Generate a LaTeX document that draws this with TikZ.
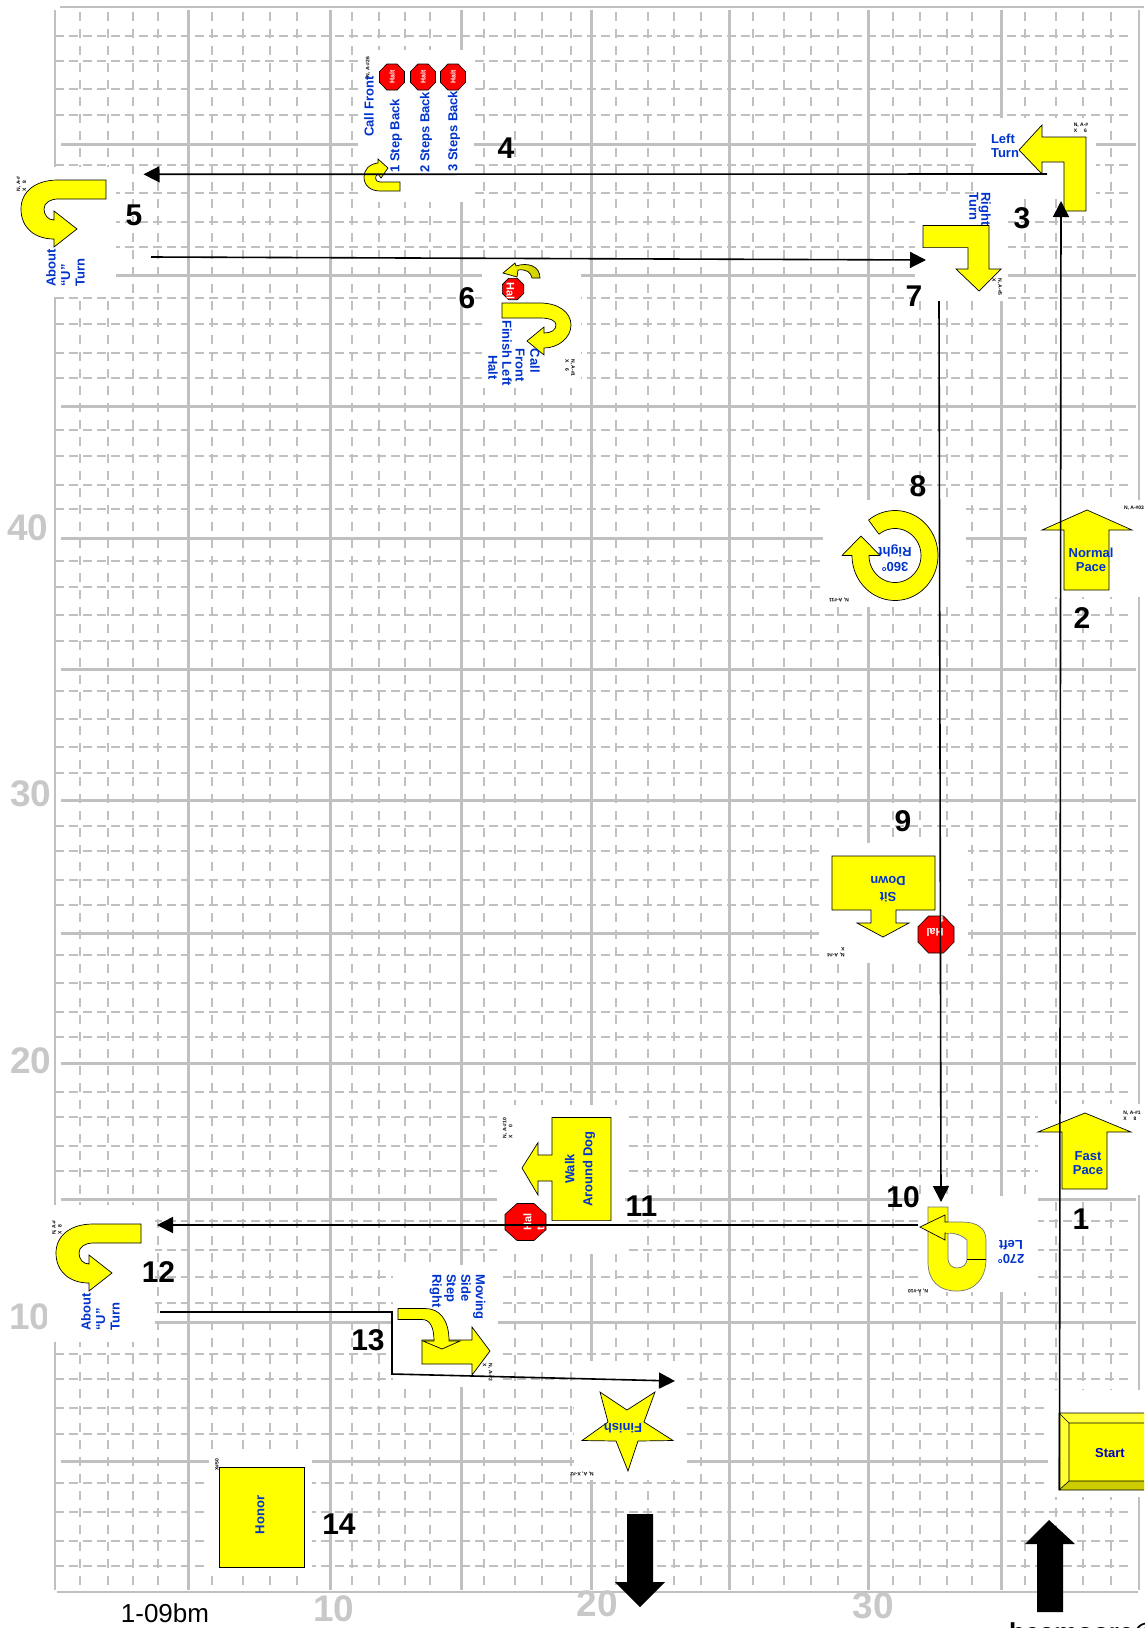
\documentclass[tikz,border=0pt]{standalone}
\usepackage{fontspec}
\setmainfont{Liberation Sans}
\usetikzlibrary{arrows.meta}
\definecolor{gridgray}{RGB}{192,192,192}
\definecolor{numgray}{RGB}{200,200,200}
\definecolor{lblblue}{RGB}{0,51,204}
\definecolor{sign}{RGB}{255,255,0}
\definecolor{signdark}{RGB}{204,204,0}
\definecolor{signlight}{RGB}{255,255,51}
\definecolor{haltred}{RGB}{255,0,0}
\tikzset{
  x=1pt,y=-1pt,
  major/.style={draw=gridgray,line width=3pt},
  minor/.style={draw=gridgray,line width=1.4pt,dash pattern=on 8.5pt off 5.5pt},
  minorv/.style={draw=gridgray,line width=1.4pt,dash pattern=on 9pt off 8pt},
  blank/.style={fill=white,draw=none},
  shapey/.style={fill=sign,draw=black,line width=0.7pt,line join=miter},
  blackshape/.style={fill=black,draw=none},
  stopsign/.style={fill=haltred,draw=black,line width=0.6pt},
  lbl/.style={font=\bfseries\fontsize{13}{14.5}\selectfont,text=lblblue,inner sep=0pt,align=center},
  lblleft/.style={lbl,align=left},
  halttext/.style={font=\bfseries\fontsize{7}{8}\selectfont,text=white,inner sep=0pt,align=left},
  halttextbig/.style={font=\bfseries\fontsize{11}{13}\selectfont,text=white,inner sep=0pt,align=left},
  stepnum/.style={font=\bfseries\fontsize{30}{30}\selectfont,text=black,inner sep=0pt},
  gridnum/.style={font=\bfseries\fontsize{37}{37}\selectfont,text=numgray,inner sep=0pt},
  tiny/.style={font=\bfseries\fontsize{5}{6}\selectfont,text=black,inner sep=0pt,align=left},
  conn/.style={draw=black,line width=1.6pt,line join=miter},
  tipL/.style={-{Triangle[length=16pt,width=16pt]}},
}
\newcommand{\octagon}[4]{\draw[stopsign] (#1-#3,#2-0.414*#4) -- (#1-0.414*#3,#2-#4) -- (#1+0.414*#3,#2-#4) -- (#1+#3,#2-0.414*#4) -- (#1+#3,#2+0.414*#4) -- (#1+0.414*#3,#2+#4) -- (#1-0.414*#3,#2+#4) -- (#1-#3,#2+0.414*#4) -- cycle;}
\newcommand{\aboutturn}[2]{\draw[shapey,shift={(#1,#2)}] (106,180) -- (58,180) .. controls (35,180) and (21,192) .. (21,209) .. controls (21,228) and (35,239) .. (54,239) -- (54,247) -- (77,229) -- (54,211) -- (54,220) .. controls (48,220) and (44,215) .. (44,209) .. controls (44,203) and (50,199) .. (58,199) -- (106,199) -- cycle;}
\begin{document}
\begin{tikzpicture}
\useasboundingbox (0,0) rectangle (1144,1628);
\clip (0,0) rectangle (1144,1628);
% --- grid
\foreach \yy in {36,61,89,115,165,193,222,247,298,324,353,378,430,456,485,509,561,587,615,641,691,719,747,773,826,851,880,905,955,983,1012,1037,1092,1117,1146,1171,1221,1250,1277,1303,1354,1379,1408,1434,1483,1512,1541,1566}
  \draw[minor] (55,\yy) -- (1132,\yy);
\foreach \xx in {80,108,133,158,212,243,270,297,352,379,405,430,484,515,542,571,616,648,674,701,753,784,811,838,893,920,947,972,1025,1056,1083,1111}
  \draw[minorv] (\xx,12) -- (\xx,1590);
\foreach \yy in {144,275,406,538,669,800,933,1063,1199,1322,1461}
  \draw[major] (61,\yy) -- (1136,\yy);
\foreach \xx in {188,330,461,591,729,868,1001}
  \draw[major] (\xx,10) -- (\xx,1590);
\draw[major,line width=2.5pt] (55,10) -- (55,1590);
\draw[major,line width=2.5pt] (1139,10) -- (1139,1590);
\draw[major,line width=2pt] (60,7) -- (1144,7);
\draw[major,line width=2pt] (57,1592) -- (1138,1592);
% --- grid numbers
\node[gridnum] (g40) at (28,528) {40};
\node[gridnum] (g30) at (31,794) {30};
\node[gridnum] (g20) at (31,1061) {20};
\node[gridnum] (g10) at (30,1317) {10};
\node[gridnum] (b10) at (334,1609) {10};
\node[gridnum] (b20) at (597,1604) {20};
\node[gridnum] (b30) at (873,1606) {30};
% --- white patches behind the signs
\fill[blank] (0,167) rectangle (116,297);
\fill[blank] (358,50) rectangle (474,202);
\fill[blank] (482,262) rectangle (581,388);
\fill[blank] (976,118) rectangle (1096,195);
\fill[blank] (915,195) rectangle (1008,301);
\fill[blank] (1027,500) rectangle (1144,597);
\fill[blank] (823,500) rectangle (966,607);
\fill[blank] (819,843) rectangle (968,963);
\fill[blank] (1038,1104) rectangle (1144,1195);
\fill[blank] (919,1196) rectangle (1038,1292);
\fill[blank] (497,1105) rectangle (625,1254);
\fill[blank] (47,1205) rectangle (155,1342);
\fill[blank] (393,1265) rectangle (498,1387);
\fill[blank] (574,1361) rectangle (687,1480);
\fill[blank] (209,1456) rectangle (312,1573);
\fill[blank] (1048,1390) rectangle (1144,1497);
% --- Start
\fill[fill=sign] (1059,1413) rectangle (1150,1490);
\fill[fill=signlight] (1059,1413) -- (1150,1413) -- (1150,1423) -- (1069,1423) -- (1069,1481) -- (1059,1490) -- cycle;
\fill[fill=signdark] (1059,1490) -- (1069,1481) -- (1150,1481) -- (1150,1490) -- cycle;
\draw[black,line width=0.6pt] (1150,1413) -- (1059,1413) -- (1059,1490) -- (1150,1490) (1059,1413) -- (1069,1423) -- (1150,1423) (1069,1423) -- (1069,1481) -- (1150,1481) (1069,1481) -- (1059,1490);
\node[lbl,text=blue!80!black] (start) at (1110,1453) {Start};
% --- Fast Pace
\draw[shapey] (1085,1113) -- (1131,1132) -- (1107,1132) -- (1107,1189) -- (1062,1189) -- (1062,1132) -- (1038,1132) -- cycle;
\node[lbl] (fast) at (1088,1163) {Fast\\Pace};
\node[tiny] (n1) at (1132,1116) {N, A-\#1\\X\ \ \ \ \ 8};
% --- Normal Pace
\draw[shapey] (1087,510) -- (1132,530) -- (1109,530) -- (1109,590) -- (1064,590) -- (1064,530) -- (1042,530) -- cycle;
\node[lbl] (normal) at (1091,560) {Normal\\Pace};
\node[tiny] (n2) at (1134,508) {N, A-\#03};
% --- Left Turn
\draw[shapey] (1019,150) -- (1042,125) -- (1042,137) -- (1086,137) -- (1086,211) -- (1064,211) -- (1064,162) -- (1042,162) -- (1042,174) -- cycle;
\node[lbl,align=left] (leftturn) at (1005,146) {Left\\Turn};
\node[tiny] (n3) at (1081,128) {N, A-\#\\X\ \ \ \ \ 6};
% --- Call Front, steps
\node[lblleft,rotate=90,anchor=west] (callfront) at (369,137) {Call Front};
\node[lblleft,rotate=90,anchor=west] (step1) at (396,173) {1 Step Back};
\node[lblleft,rotate=90,anchor=west] (step2) at (426,173) {2 Steps Back};
\node[lblleft,rotate=90,anchor=west] (step3) at (454,172) {3 Steps Back};
\node[tiny,rotate=90] (n4) at (368,67) {N, A-\#26};
\octagon{392}{77}{12.5}{13}
\octagon{423}{77}{12.5}{13}
\octagon{453}{77}{12.5}{13}
\node[halttext,rotate=90] (h1) at (392,77) {Halt};
\node[halttext,rotate=90] (h2) at (423,77) {Halt};
\node[halttext,rotate=90] (h3) at (453,77) {Halt};
\draw[shapey] (400,182) -- (380,182) .. controls (375,182) and (374,176) .. (378,174) -- (381,178) -- (388,168) -- (378,159) -- (378,163) .. controls (369,164) and (364,170) .. (364,177) .. controls (364,186) and (371,191) .. (380,191) -- (400,191) -- cycle;
% --- About U turn (5)
\aboutturn{0}{0}
\node[lblleft,rotate=90,anchor=west] (about5) at (65.5,287) {About\\``U''\\Turn};
\node[tiny,rotate=90] (n5) at (21.5,184) {N, A-\#\\X\ \ \ 8};
% --- Call Front Finish Left Halt (6)
\draw[shapey,left color=sign,right color=signdark,draw=black] (540,278) -- (532,278) .. controls (531,272) and (526,269) .. (518,270) -- (517,277) -- (503,273) -- (515,263) -- (516,266) .. controls (528,262) and (540,266) .. (540,278) -- cycle;
\octagon{513}{289}{10.7}{10.7}
\node[font=\bfseries\fontsize{11}{12}\selectfont,text=white,inner sep=0pt,rotate=-90] (h6) at (510.5,291) {Hal};
\draw[shapey] (502,303) -- (540,303) .. controls (558,303) and (571,312) .. (571,325) .. controls (571,338) and (558,348) .. (544,348) -- (544,355) -- (527,341) -- (544,327) -- (544,333) .. controls (551,333) and (556,330) .. (556,325) .. controls (556,321) and (551,318) .. (540,318) -- (502,318) -- cycle;
\node[lblleft,rotate=-90,anchor=east] (s6a) at (535,373) {Call};
\node[lblleft,rotate=-90,anchor=east] (s6b) at (520,382) {Front};
\node[lblleft,rotate=-90,anchor=east] (s6c) at (507,386) {Finish Left};
\node[lblleft,rotate=-90,anchor=east] (s6d) at (493,380) {Halt};
\node[tiny,rotate=-90] (n6) at (570,368) {N, A-\#1\\X\ \ \ \ 6};
% --- Right Turn (7)
\node[lblleft,rotate=-90,anchor=west,font=\bfseries\fontsize{13}{12}\selectfont] (rightturn) at (980,192) {Right\\Turn};
\draw[shapey] (923,225.5) -- (989,225.5) -- (989,269) -- (1001,269) -- (979,291) -- (956,269) -- (968,269) -- (968,247.6) -- (923,247.6) -- cycle;
\node[tiny,rotate=-90] (n7) at (997,287) {N, A-\#5\\X};
% --- 360 Right (8)
\draw[shapey,line join=round] plot[domain=128:-180,samples=70] ({895+43*cos(\x)},{555.5-45*sin(\x)}) -- (842,555.5) -- (861,536) -- (880,555.5) -- (869,555.5) -- plot[domain=-180:128,samples=60] ({895+26*cos(\x)},{555.5-27*sin(\x)}) -- cycle;
\node[lbl,rotate=180] (r360) at (895,558) {360°\\Right};
\node[tiny,rotate=180] (n8) at (839,600) {N, A-\#11};
% --- Sit Down (9)
\draw[shapey] (832,856) -- (935,856) -- (935,910) -- (896,910) -- (896,923) -- (909,923) -- (883,937) -- (857,923) -- (871,923) -- (871,910) -- (832,910) -- cycle;
\node[lbl,rotate=180,font=\bfseries\fontsize{13}{16}\selectfont] (sit) at (888,889) {Sit\\Down};
\octagon{936}{934.5}{18}{18.5}
\begin{scope}
\clip (918,916) rectangle (954,953);
\node[halttextbig,rotate=180] (h9) at (935,926) {Hal\\t};
\end{scope}
\node[tiny,rotate=180] (n9) at (836,952) {N, A-\#4\\X};
% --- 270 Left (10)
\draw[shapey,draw=black!55,even odd rule] (928,1207) -- (948,1207) -- (948,1222) -- (962,1222) .. controls (977,1222) and (986,1228) .. (986,1240) -- (986,1259) .. controls (986,1278) and (975,1291) .. (957,1291) .. controls (938,1291) and (928,1280) .. (928,1262) -- cycle
 (948,1233) -- (948,1259) .. controls (948,1264) and (952,1268) .. (957,1268) .. controls (963,1268) and (967,1264) .. (967,1259) -- (967,1240) .. controls (962,1235) and (955,1233) .. (948,1233) -- cycle;
\draw[black,line width=0.7pt] (967,1259) -- (986,1259);
\draw[shapey] (948,1222) -- (945,1222) -- (945,1215) -- (920,1227) -- (945,1240) -- (945,1233) -- (948,1233);
\fill[sign] (945.5,1222.5) rectangle (950,1232.5);
\node[lbl,rotate=180] (l270) at (1011,1252) {270°\\Left};
\node[tiny,rotate=180] (n10) at (918,1291) {N, A-\#10};
% --- Walk Around Dog (11)
\draw[shapey] (552,1117.5) -- (611,1117.5) -- (611,1220.6) -- (552,1220.6) -- (552,1181) -- (538,1181) -- (538,1195) -- (522,1168) -- (538,1142.6) -- (538,1155) -- (552,1155) -- cycle;
\node[lbl,rotate=90,font=\bfseries\fontsize{13}{18}\selectfont] (walk) at (580,1169) {Walk\\Around Dog};
\octagon{525.5}{1222}{20.5}{18.5}
\node[halttextbig,rotate=90] (h11) at (534,1222) {Hal\\t};
\node[tiny,rotate=90] (n11) at (507.6,1128) {N, A-\#10\\X\ \ \ \ \ 0};
% --- About U turn (12)
\aboutturn{35}{1044}
\node[lblleft,rotate=90,anchor=west] (about12) at (100.5,1331) {About\\``U''\\Turn};
\node[tiny,rotate=90] (n12) at (57,1227.5) {N, A-\#\\X\ \ \ 8};
% --- Moving Side Step Right (13)
\draw[shapey] (422,1340) -- (472,1340) -- (472,1327) -- (490,1351) -- (472,1375) -- (472,1364) -- (422,1364) -- cycle;
\draw[shapey] (398,1308.5) -- (425,1308.5) .. controls (440,1308.5) and (449,1320) .. (449,1341) -- (460,1341) -- (442,1349) -- (423,1341) -- (434,1341) .. controls (434,1327) and (430,1319.5) .. (422,1319.5) -- (398,1319.5) -- cycle;
\node[lblleft,rotate=-90,anchor=west] (moving) at (457.5,1274) {Moving\\Side\\Step\\Right};
\node[tiny,rotate=-90] (n13) at (487.5,1372.5) {N, A-\#2\\X};
% --- Finish
\draw[shapey] (628,1471) -- (616,1441) -- (582,1440.5) -- (608,1422) -- (600,1392) -- (627,1410) -- (655,1392) -- (644,1422) -- (673,1440.5) -- (638,1441) -- cycle;
\node[lbl,rotate=180] (finish) at (623,1428.5) {Finish};
\node[tiny,rotate=180] (n14) at (582,1474) {N, A, X-\#2};
% --- Honor
\draw[shapey] (219,1467) rectangle (304,1567);
\node[lbl,rotate=90] (honor) at (260,1515) {Honor};
\node[tiny,rotate=90] (n15) at (217,1464.5) {X\#50};
% --- big arrows
\fill[blackshape] (627,1514) -- (653,1514) -- (653,1582) -- (665,1582) -- (640,1607) -- (615,1582) -- (627,1582) -- cycle;
\fill[blackshape] (1049,1520) -- (1075,1544) -- (1063,1544) -- (1063,1612) -- (1037,1612) -- (1037,1544) -- (1025,1544) -- cycle;
% --- connectors
\coordinate (p1) at (1059.5,1490);
\coordinate (p3) at (1061,201);
\coordinate (p3b) at (1047,174);
\coordinate (p5) at (143.5,174.3);
\coordinate (p5b) at (151,257);
\coordinate (p7) at (926,260);
\coordinate (p7b) at (939,301);
\coordinate (p10) at (941,1202);
\coordinate (p10b) at (918,1225);
\coordinate (p12) at (157,1225);
\coordinate (p12b) at (160,1312);
\coordinate (p13a) at (392,1312);
\coordinate (p13b) at (392,1374);
\coordinate (p14) at (675,1381);
\draw[conn,tipL] (p1) -- (p3);
\draw[conn,tipL] (p3b) -- (p5);
\draw[conn,tipL] (p5b) -- (p7);
\draw[conn,tipL] (p7b) -- (p10);
\draw[conn,tipL] (p10b) -- (p12);
\draw[conn,tipL] (p12b) -- (p13a) -- (p13b) -- (p14);
% --- step numbers
\node[stepnum] (s1) at (1081,1219) {1};
\node[stepnum] (s2) at (1082,618) {2};
\node[stepnum] (s3) at (1022,218) {3};
\node[stepnum] (s4) at (506,148) {4};
\node[stepnum] (s5) at (134,215) {5};
\node[stepnum] (s6) at (467,298) {6};
\node[stepnum] (s7) at (914,296) {7};
\node[stepnum] (s8) at (918,486) {8};
\node[stepnum] (s9) at (903,821) {9};
\node[stepnum] (s10) at (903,1197) {10};
\node[stepnum] (s11) at (641.5,1206) {11};
\node[stepnum] (s12) at (158.5,1272) {12};
\node[stepnum] (s13) at (368,1340) {13};
\node[stepnum] (s14) at (339,1524) {14};
% --- footer text
\node[font=\fontsize{26}{26}\selectfont,text=black,inner sep=0pt] (ver) at (165,1613) {1-09bm};
\node[font=\bfseries\fontsize{26}{26}\selectfont,text=black,inner sep=0pt,anchor=base west] (email) at (1009,1641) {beamoore@};
\end{tikzpicture}
\end{document}
